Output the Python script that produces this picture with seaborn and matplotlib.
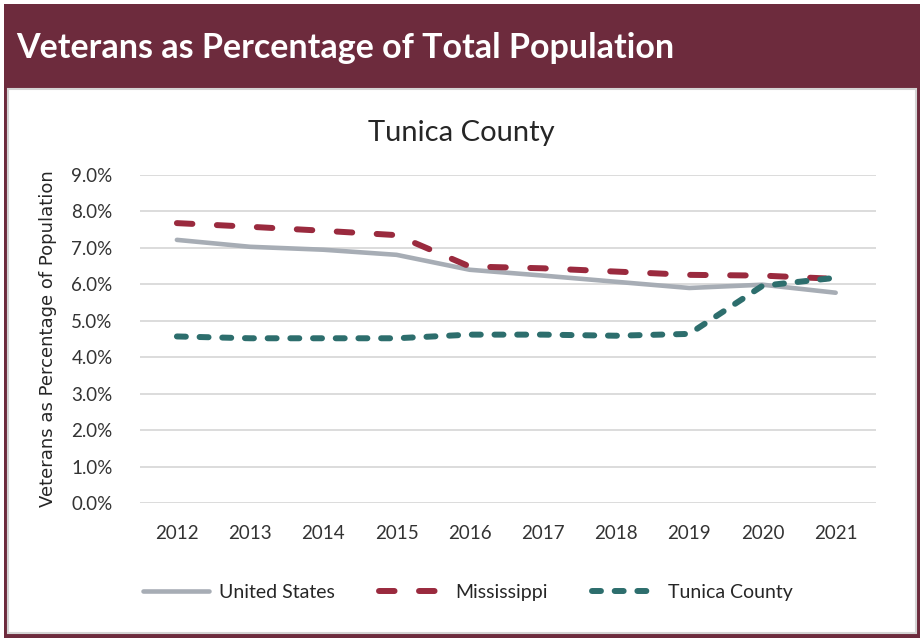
import matplotlib
matplotlib.use("Agg")
import matplotlib.pyplot as plt
from matplotlib.patches import Rectangle
from matplotlib.lines import Line2D
import pandas as pd
import seaborn as sns

# ── Data ──────────────────────────────────────────────────────────────────────
years       = [2012, 2013, 2014, 2015, 2016, 2017, 2018, 2019, 2020, 2021]
us          = [7.22, 7.03, 6.95, 6.81, 6.40, 6.24, 6.07, 5.90, 5.99, 5.77]
mississippi = [7.68, 7.58, 7.47, 7.35, 6.49, 6.44, 6.35, 6.26, 6.24, 6.15]
tunica      = [4.57, 4.52, 4.52, 4.52, 4.62, 4.62, 4.59, 4.64, 5.96, 6.18]
series      = ["United States", "Mississippi", "Tunica County"]
yticks      = [0, 1, 2, 3, 4, 5, 6, 7, 8, 9]

MAROON = "#6D2B3D"
colors = {"United States": "#A7ADB5", "Mississippi": "#9A2A3E", "Tunica County": "#2D6E6D"}
dashes = {"United States": "", "Mississippi": (2.6, 4.1), "Tunica County": (1.5, 2.3)}
widths = {"United States": 3.3, "Mississippi": 4.3, "Tunica County": 4.3}

df = pd.DataFrame({
    "Year": years * 3,
    "Value": us + mississippi + tunica,
    "Series": [s for s in series for _ in years],
})

sns.set_theme(style="white")
plt.rcParams["font.family"] = ["Lato", "DejaVu Sans"]

fig = plt.figure(figsize=(9.23, 6.38), dpi=100)

# banner + card frame
fig.patches.append(Rectangle((0.004, 0.0), 0.993, 0.993, transform=fig.transFigure,
                             facecolor=MAROON, edgecolor="none", zorder=-10))
fig.patches.append(Rectangle((0.009, 0.008), 0.983, 0.853, transform=fig.transFigure,
                             facecolor="white", edgecolor="#D4D4D4", lw=1.5, zorder=-9))
fig.text(0.017, 0.925, "Veterans as Percentage of Total Population", color="white",
         fontsize=24.5, fontweight="bold", va="center", ha="left")

ax = fig.add_axes([0.152, 0.2116, 0.797, 0.5141])
ax.patch.set_alpha(0)
sns.lineplot(data=df, x="Year", y="Value", hue="Series", style="Series",
             palette=colors, dashes=dashes, linewidth=4.3, ax=ax, legend=False)
for ln, s in zip(ax.lines, series):
    ln.set_linewidth(widths[s])
    ln.set_solid_capstyle("round")
    ln.set_dash_capstyle("round")

ax.set_xlim(2011.5, 2021.55)
ax.set_ylim(0, 9)
ax.set_yticks(yticks)
ax.set_yticklabels([f"{v:.1f}%" for v in yticks], fontsize=13.5, color="#333333")
ax.set_xticks(years)
ax.set_xticklabels([str(y) for y in years], fontsize=13.5, color="#333333")
ax.tick_params(axis="y", length=0, pad=20)
ax.tick_params(axis="x", length=0, pad=16)
ax.grid(axis="y", color="#D9D9D9", lw=1.3)
ax.set_axisbelow(True)
sns.despine(ax=ax, left=True, bottom=True)
ax.set_xlabel("")
ax.set_ylabel("Veterans as Percentage of Population", fontsize=13, color="#262626",
              family="DejaVu Sans", labelpad=10)
fig.text(0.5, 0.792, "Tunica County", fontsize=21, color="#262626", ha="center", va="center")

handles = [Line2D([], [], color=colors[s], lw=widths[s],
                  dashes=dashes[s] if dashes[s] else (None, None),
                  solid_capstyle="round", dash_capstyle="round") for s in series]
fig.legend(handles, series, loc="center", bbox_to_anchor=(0.507, 0.072), ncol=3, frameon=False,
           fontsize=14, handlelength=3.4, columnspacing=2.3, handletextpad=0.5)

fig.savefig("out.png", dpi=100)
